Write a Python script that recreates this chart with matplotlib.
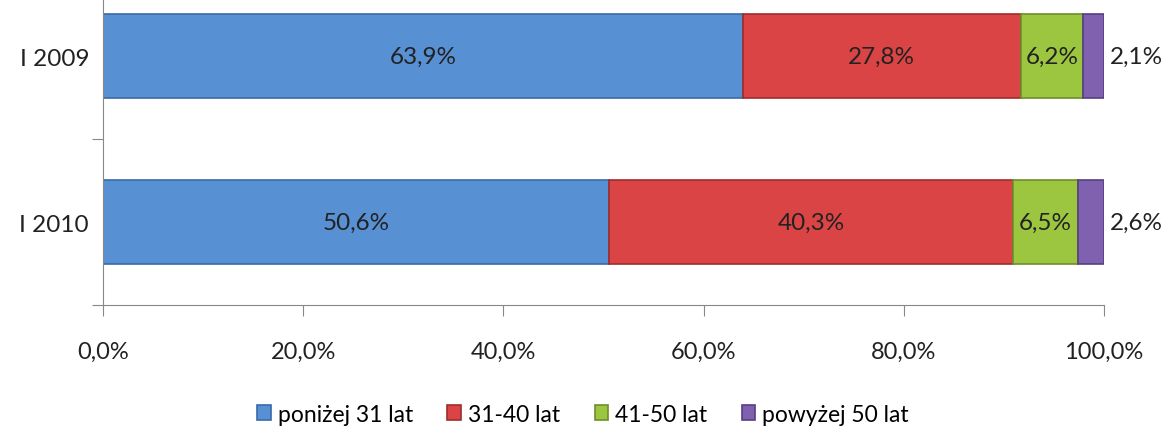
import matplotlib
matplotlib.use('Agg')
import matplotlib.pyplot as plt
import numpy as np

plt.rcParams['font.family'] = ['Lato', 'DejaVu Sans']

# dane
okresy = ['I 2010', 'I 2009']
serie = ['poniżej 31 lat', '31-40 lat', '41-50 lat', 'powyżej 50 lat']
wartosci = {
    'poniżej 31 lat': [50.6, 63.9],
    '31-40 lat': [40.3, 27.8],
    '41-50 lat': [6.5, 6.2],
    'powyżej 50 lat': [2.6, 2.1],
}
kolory = ['#5790D3', '#DB4444', '#9DC640', '#8061B0']
krawedzie = ['#3A6AA8', '#A02C2C', '#6E8E2A', '#573F82']

fig = plt.figure(figsize=(11.66, 4.27), dpi=100)
ax = fig.add_axes([0.0883, 0.2834, 0.8585, 0.777])

y = np.arange(len(okresy))
left = np.zeros(len(okresy))
for i, s in enumerate(serie):
    v = np.array(wartosci[s])
    ax.barh(y, v, left=left, height=0.506, color=kolory[i],
            edgecolor=krawedzie[i], linewidth=1.2, label=s)
    for j in range(len(okresy)):
        txt = ('%.1f%%' % v[j]).replace('.', ',')
        if i == len(serie) - 1:
            ax.text(left[j] + v[j] + 0.6, y[j], txt, ha='left', va='center',
                    fontsize=17.5, color='#222222')
        else:
            ax.text(left[j] + v[j] / 2, y[j], txt, ha='center', va='center',
                    fontsize=17.5, color='#222222')
    left = left + v

ax.set_xlim(0, 100)
ax.set_ylim(-0.5, 1.5)
ax.set_xticks(np.arange(0, 101, 20))
ax.set_xticklabels([('%.1f%%' % t).replace('.', ',') for t in np.arange(0, 101, 20)],
                   fontsize=17, color='#222222')
ax.set_yticks([-0.5, 0.5, 1.5])
ax.set_yticks(y, minor=True)
ax.set_yticklabels(['', '', ''])
ax.set_yticklabels(okresy, minor=True, fontsize=17.5, color='#222222')
ax.tick_params(axis='y', which='minor', length=0, pad=10)
ax.tick_params(axis='y', which='major', length=8, color='#888888', direction='out')
ax.tick_params(axis='x', length=8, color='#888888', direction='out', pad=18)

for sp in ['top', 'right']:
    ax.spines[sp].set_visible(False)
for sp in ['left', 'bottom']:
    ax.spines[sp].set_color('#888888')

ax.legend(loc='center', bbox_to_anchor=(0.5, 0.028), bbox_transform=fig.transFigure,
          ncol=4, frameon=False, fontsize=16.5, handlelength=0.6, handleheight=0.6,
          handletextpad=0.3, columnspacing=1.5)

plt.savefig('out.png', dpi=100)
plt.close()
